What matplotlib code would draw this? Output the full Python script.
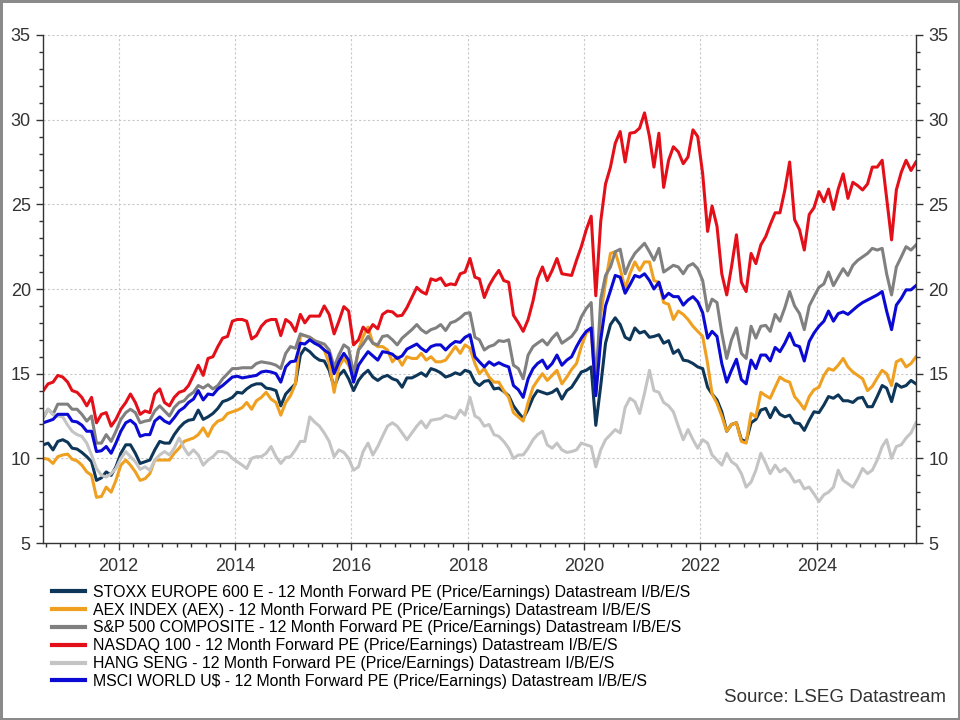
import numpy as np
import pandas as pd
import matplotlib
matplotlib.use('Agg')
import matplotlib.pyplot as plt
import matplotlib.dates as mdates
from matplotlib.ticker import MultipleLocator

plt.rcParams['font.family'] = ['Liberation Sans', 'DejaVu Sans']

# monthly 12m forward PE, Sep 2010 .. Sep 2025
stoxx = [10.8, 10.9, 10.5, 11.0, 11.1, 10.95, 10.6, 10.55, 10.35, 10.1,
         9.8, 8.7, 8.85, 9.2, 9.0, 9.5, 10.3, 10.8, 10.8, 10.3,
         9.7, 9.8, 9.9, 10.5, 11.0, 10.9, 10.9, 11.4, 11.8, 12.1,
         12.25, 12.3, 12.85, 12.3, 12.45, 12.65, 12.95, 13.35, 13.45, 13.6,
         13.9, 13.85, 14.1, 14.3, 14.4, 14.4, 14.15, 14.1, 14.0, 13.1,
         13.8, 14.1, 14.4, 16.1, 16.5, 16.3, 16.0, 15.8, 15.75, 15.2,
         14.2, 14.9, 15.2, 14.7, 14.0, 14.6, 14.95, 15.2, 14.8, 14.6,
         14.8, 14.9, 14.7, 14.6, 14.2, 14.75, 14.75, 14.9, 15.05, 14.85,
         15.3, 15.2, 15.05, 14.8, 14.9, 15.05, 14.95, 15.2, 15.1, 14.5,
         14.3, 14.55, 14.6, 14.1, 14.15, 13.95, 13.7, 13.1, 12.7, 12.35,
         12.9, 13.6, 14.0, 13.9, 13.8, 13.9, 14.1, 13.5, 14.0, 14.2,
         14.65, 15.1, 15.2, 15.4, 11.95, 14.3, 16.8, 17.9, 18.3, 17.9,
         17.15, 17.0, 17.7, 17.4, 17.5, 17.15, 17.2, 17.3, 16.8, 16.95,
         16.2, 16.4, 15.8, 15.75, 15.6, 15.4, 15.3, 14.2, 13.8, 13.45,
         12.75, 11.6, 12.0, 12.1, 11.1, 11.0, 12.1, 12.3, 12.85, 12.95,
         12.4, 13.0, 12.6, 12.45, 12.55, 12.1, 12.05, 11.65, 12.25, 12.75,
         12.7, 13.15, 13.65, 13.55, 13.75, 13.4, 13.4, 13.3, 13.55, 13.6,
         13.05, 13.05, 13.65, 14.3, 14.15, 13.35, 14.4, 14.2, 14.3, 14.6, 14.4]

aex = [10.0, 9.95, 9.7, 10.1, 10.2, 10.25, 9.95, 9.85, 9.6, 9.2,
       9.0, 7.7, 7.75, 8.3, 8.0, 8.7, 9.6, 9.9, 9.6, 9.2,
       8.7, 8.8, 9.1, 9.9, 9.9, 9.9, 9.9, 10.3, 10.6, 11.0,
       11.1, 11.2, 11.4, 11.8, 11.3, 11.9, 12.2, 12.3, 12.65, 12.75,
       12.85, 13.0, 13.3, 12.9, 13.4, 13.6, 13.9, 13.5, 13.3, 12.55,
       13.3, 13.7, 14.4, 17.25, 17.25, 17.15, 16.95, 16.75, 16.4, 15.6,
       13.9, 15.4, 15.9, 15.5, 14.8, 16.4, 17.2, 17.75, 16.8, 16.6,
       16.6, 16.4, 15.7, 16.0, 15.5, 16.0, 15.9, 15.9, 16.2, 15.8,
       16.0, 15.7, 15.7, 15.8, 16.2, 16.6, 16.2, 16.7, 16.5, 15.6,
       15.0, 15.3, 14.8, 14.5, 14.5, 14.0, 13.6, 12.7, 12.45, 12.2,
       13.3, 14.2, 14.6, 15.0, 14.6, 14.9, 15.2, 14.4, 14.8, 15.25,
       15.6, 16.6, 17.4, 17.6, 13.8, 18.5, 20.4, 22.1, 22.2, 21.2,
       20.0, 20.9, 21.6, 21.1, 21.6, 21.6, 20.5, 20.4, 19.2, 19.1,
       18.2, 18.7, 18.5, 18.2, 17.8, 17.5, 17.2, 15.6, 13.8, 13.25,
       12.5, 11.6, 12.0, 12.1, 11.0, 10.9, 12.65, 12.45, 13.9, 13.7,
       13.55, 14.2, 14.8, 14.6, 14.5, 13.65, 13.3, 12.9, 13.65, 14.05,
       14.2, 14.9, 15.3, 15.2, 15.5, 15.9, 15.4, 15.1, 14.9, 14.7,
       14.0, 14.25, 14.75, 15.2, 15.0, 14.3, 15.7, 15.85, 15.4, 15.6, 16.0]

spx = [12.4, 12.9, 12.6, 13.2, 13.2, 13.2, 12.9, 12.9, 12.6, 12.2,
       12.5, 10.9, 10.9, 11.4, 11.0, 11.6, 12.3, 12.7, 12.9, 12.7,
       12.1, 12.2, 12.25, 12.8, 13.1, 12.8, 12.5, 13.0, 13.3, 13.4,
       13.7, 13.9, 14.3, 14.15, 14.35, 14.1, 14.3, 14.7, 15.0, 15.3,
       15.3, 15.35, 15.35, 15.35, 15.6, 15.7, 15.65, 15.6, 15.5, 15.3,
       16.2, 16.6, 16.5, 17.35, 17.25, 17.15, 16.95, 16.85, 16.75, 16.4,
       15.4, 16.1, 16.7, 16.5, 15.0, 16.4, 16.75, 17.2, 16.8, 16.7,
       17.2, 17.25, 17.0, 16.7, 17.1, 17.35, 17.6, 17.9, 17.6, 17.4,
       17.6, 17.7, 17.9, 17.55, 18.0, 18.1, 18.3, 18.55, 18.6, 17.15,
       17.0, 16.4, 16.6, 16.7, 16.95, 16.9, 17.0, 15.5, 15.3, 14.7,
       16.1, 16.6, 16.8, 17.0, 16.7, 17.1, 17.4, 16.8, 17.0, 17.2,
       17.6, 18.35, 18.85, 19.2, 14.3, 19.4, 20.8, 21.3, 22.2, 22.35,
       20.9, 21.6, 22.1, 22.4, 22.7, 22.2, 21.7, 22.4, 21.0, 21.2,
       21.4, 21.3, 20.9, 21.35, 21.5, 21.2, 20.5, 18.7, 19.4, 19.2,
       17.4, 15.9, 17.0, 17.7, 16.2, 15.9, 17.8, 17.1, 17.8, 17.85,
       17.5, 18.5, 18.1, 18.9, 19.85, 19.0, 18.55, 17.6, 19.0, 19.55,
       20.1, 20.3, 21.0, 20.2, 20.7, 21.2, 20.8, 21.4, 21.7, 21.9,
       22.1, 22.4, 22.3, 22.4, 20.9, 19.65, 21.3, 21.9, 22.5, 22.3, 22.6]

nasdaq = [14.0, 14.4, 14.5, 14.9, 14.8, 14.5, 14.0, 13.9, 13.6, 13.1,
          13.6, 12.1, 12.6, 12.7, 11.9, 12.3, 12.9, 13.3, 13.8, 13.3,
          12.6, 12.8, 12.7, 13.8, 14.1, 13.3, 13.1, 13.6, 13.9, 14.0,
          14.3, 14.9, 15.5, 14.9, 15.9, 16.0, 16.6, 17.1, 17.2, 18.1,
          18.2, 18.2, 18.1, 17.05, 17.25, 17.8, 18.1, 18.2, 18.2, 17.25,
          18.2, 18.0, 17.5, 18.5, 18.0, 18.4, 18.4, 18.4, 19.0, 18.5,
          17.35, 18.1, 18.96, 18.7, 16.7, 17.0, 17.75, 17.45, 17.9, 17.65,
          18.5, 18.7, 18.65, 18.4, 18.45, 18.9, 19.5, 20.1, 19.85, 19.7,
          20.6, 20.5, 20.65, 20.2, 20.3, 20.25, 20.9, 21.0, 21.8, 20.7,
          20.6, 19.5, 20.2, 20.7, 21.1, 20.5, 20.4, 18.45, 18.0, 17.5,
          18.2, 19.3, 20.6, 21.3, 20.5, 21.1, 21.8, 20.9, 20.85, 20.8,
          21.7, 22.5, 23.5, 24.3, 19.6, 24.0, 26.2, 27.2, 28.6, 29.3,
          27.5, 29.2, 29.25, 29.5, 30.4, 29.0, 27.2, 29.2, 26.0, 27.6,
          28.4, 28.1, 27.4, 27.8, 29.4, 29.0, 26.8, 23.4, 24.9, 23.7,
          20.9, 19.65, 21.3, 23.2, 20.4, 19.85, 22.1, 21.5, 22.6, 23.1,
          23.8, 24.5, 24.5, 25.85, 27.5, 24.1, 23.5, 22.3, 24.4, 24.8,
          25.75, 25.15, 25.9, 24.7, 25.9, 26.8, 25.35, 26.3, 26.1, 25.85,
          26.2, 27.2, 27.2, 27.6, 25.35, 22.9, 25.85, 26.9, 27.6, 27.0, 27.5]

hang_seng = [12.45, 12.9, 12.6, 12.5, 12.45, 11.96, 11.6, 11.4, 11.3, 10.9,
             10.2, 9.4, 9.0, 8.9, 9.1, 9.4, 10.0, 10.4, 10.1, 9.8,
             9.35, 9.5, 9.3, 9.9, 10.2, 10.4, 10.2, 10.6, 11.2, 10.6,
             10.2, 10.5, 10.2, 9.6, 9.9, 10.1, 10.4, 10.4, 10.3, 10.0,
             9.8, 9.6, 9.4, 10.0, 10.1, 10.1, 10.3, 10.7, 10.1, 9.7,
             10.05, 10.1, 10.5, 11.0, 11.0, 12.45, 12.15, 11.9, 11.5, 11.0,
             10.1, 10.5, 10.35, 10.0, 9.3, 9.5, 10.4, 10.9, 10.2, 10.7,
             11.3, 11.9, 12.1, 11.9, 11.5, 11.1, 11.5, 11.9, 12.2, 11.8,
             12.25, 12.3, 12.35, 12.55, 12.45, 12.35, 12.85, 12.55, 13.6, 12.5,
             12.35, 11.9, 12.0, 11.4, 11.3, 11.0, 10.6, 10.0, 10.2, 10.2,
             10.6, 11.1, 11.4, 11.6, 10.8, 10.6, 10.9, 10.5, 10.35, 10.4,
             10.5, 10.9, 10.8, 10.7, 9.5, 10.5, 11.1, 11.4, 11.7, 11.5,
             13.0, 13.55, 13.35, 12.65, 13.85, 15.2, 14.0, 13.9, 13.3, 13.1,
             12.75, 11.9, 11.1, 11.7, 11.1, 10.6, 11.1, 10.9, 10.2, 9.9,
             9.6, 10.3, 9.8, 9.6, 9.1, 8.3, 8.6, 9.3, 10.3, 9.7,
             9.1, 9.6, 9.2, 9.4, 9.1, 8.6, 8.7, 8.2, 8.3, 7.9,
             7.45, 7.85, 8.0, 8.3, 9.3, 8.7, 8.5, 8.3, 8.8, 9.4,
             9.1, 9.3, 9.9, 10.7, 11.1, 10.0, 10.7, 10.8, 11.2, 11.5, 12.1]

msci = [12.1, 12.2, 12.3, 12.6, 12.6, 12.6, 12.2, 12.15, 11.96, 11.6,
        11.6, 10.4, 10.45, 10.7, 10.3, 10.9, 11.6, 12.1, 12.25, 12.0,
        11.3, 11.4, 11.4, 12.2, 12.45, 12.2, 12.06, 12.4, 12.8, 13.0,
        13.3, 13.5, 14.0, 13.45, 13.8, 13.75, 14.1, 14.3, 14.55, 14.8,
        14.85, 14.75, 14.8, 14.85, 14.9, 15.1, 15.15, 15.1, 15.0, 14.5,
        15.4, 15.7, 15.75, 16.8, 16.75, 17.0, 16.8, 16.65, 16.4, 16.2,
        15.0, 15.7, 16.2, 15.8, 14.5, 15.5, 15.9, 16.3, 16.05, 15.8,
        16.3, 16.25, 16.15, 15.9, 16.05, 16.45, 16.6, 16.75, 16.5, 16.3,
        16.6, 16.7, 16.7, 16.4, 16.7, 16.9, 16.85, 17.15, 17.3, 16.0,
        15.7, 15.4, 15.7, 15.5, 15.65, 15.5, 15.4, 14.3, 14.05, 13.6,
        14.7, 15.3, 15.6, 15.8, 15.3, 15.6, 16.1, 15.5, 15.8, 16.0,
        16.6, 17.1, 17.5, 17.7, 13.7, 17.0, 19.0, 19.9, 20.8, 20.7,
        19.75, 20.25, 20.8, 20.7, 20.9, 20.5, 20.0, 20.4, 19.45, 19.75,
        19.55, 19.55, 19.05, 19.35, 19.55, 19.25, 18.6, 17.1, 17.5, 17.2,
        15.6, 14.5, 15.2, 15.85, 14.65, 14.4, 15.8, 15.3, 16.1, 16.1,
        15.75, 16.55, 16.3, 16.8, 17.4, 16.7, 16.6, 15.75, 16.9, 17.4,
        17.8, 18.1, 18.7, 18.1, 18.55, 18.65, 18.5, 18.75, 19.0, 19.2,
        19.35, 19.5, 19.65, 19.85, 18.7, 17.6, 19.05, 19.45, 19.95, 19.95, 20.2]

labels = [
    'STOXX EUROPE 600 E - 12 Month Forward PE (Price/Earnings) Datastream I/B/E/S',
    'AEX INDEX (AEX) - 12 Month Forward PE (Price/Earnings) Datastream I/B/E/S',
    'S&P 500 COMPOSITE - 12 Month Forward PE (Price/Earnings) Datastream I/B/E/S',
    'NASDAQ 100 - 12 Month Forward PE (Price/Earnings) Datastream I/B/E/S',
    'HANG SENG - 12 Month Forward PE (Price/Earnings) Datastream I/B/E/S',
    'MSCI WORLD U$ - 12 Month Forward PE (Price/Earnings) Datastream I/B/E/S',
]
colors = ['#0d3658', '#efa020', '#808080', '#e3101a', '#c4c4c4', '#0a0ad2']
series = [stoxx, aex, spx, nasdaq, hang_seng, msci]

dates = pd.date_range('2010-09-01', periods=len(stoxx), freq='MS') + pd.Timedelta(days=14)

fig = plt.figure(figsize=(9.6, 7.2), dpi=100)
fig.patch.set_edgecolor('#8a8a8a')
fig.patch.set_linewidth(2.5)
ax = fig.add_axes([0.0451, 0.2458, 0.909, 0.7056])

for vals, col, lab in zip(series, colors, labels):
    ax.plot(dates, vals, color=col, lw=2.2, label=lab)

ax.set_xlim(dates[0], dates[-1])
ax.set_ylim(5, 35)
ax.yaxis.set_major_locator(MultipleLocator(5))
ax.yaxis.set_minor_locator(MultipleLocator(1))
ax.xaxis.set_major_locator(mdates.YearLocator(2))
ax.xaxis.set_major_formatter(mdates.DateFormatter('%Y'))
ax.xaxis.set_minor_locator(mdates.MonthLocator(bymonth=[1, 4, 7, 10]))

ax.grid(True, which='major', color='#c8c8c8', linestyle=(0, (2, 2)), lw=0.8)
ax.set_axisbelow(True)
for s in ['left', 'right', 'bottom']:
    ax.spines[s].set_color('#333333')
    ax.spines[s].set_linewidth(1.0)
ax.spines['top'].set_visible(False)

ax.tick_params(axis='both', which='major', direction='out', length=5, width=1,
               colors='#333333', labelsize=13, pad=4)
ax.tick_params(axis='both', which='minor', direction='out', length=3, width=1, colors='#333333')
ax.tick_params(axis='y', which='both', right=True, labelright=True)
ax.tick_params(axis='x', which='major', pad=6)

fig.legend(loc='upper left', bbox_to_anchor=(0.0543, 0.1878), frameon=False,
           fontsize=11.4, handlelength=2.1, handletextpad=0.5, labelspacing=0.18,
           borderpad=0, borderaxespad=0)
for line in fig.legends[0].get_lines():
    line.set_linewidth(3)

fig.text(0.985, 0.019, 'Source: LSEG Datastream', ha='right', va='bottom',
         fontsize=13.5, color='#333333')

fig.savefig('out.png', dpi=100, edgecolor=fig.get_edgecolor())
